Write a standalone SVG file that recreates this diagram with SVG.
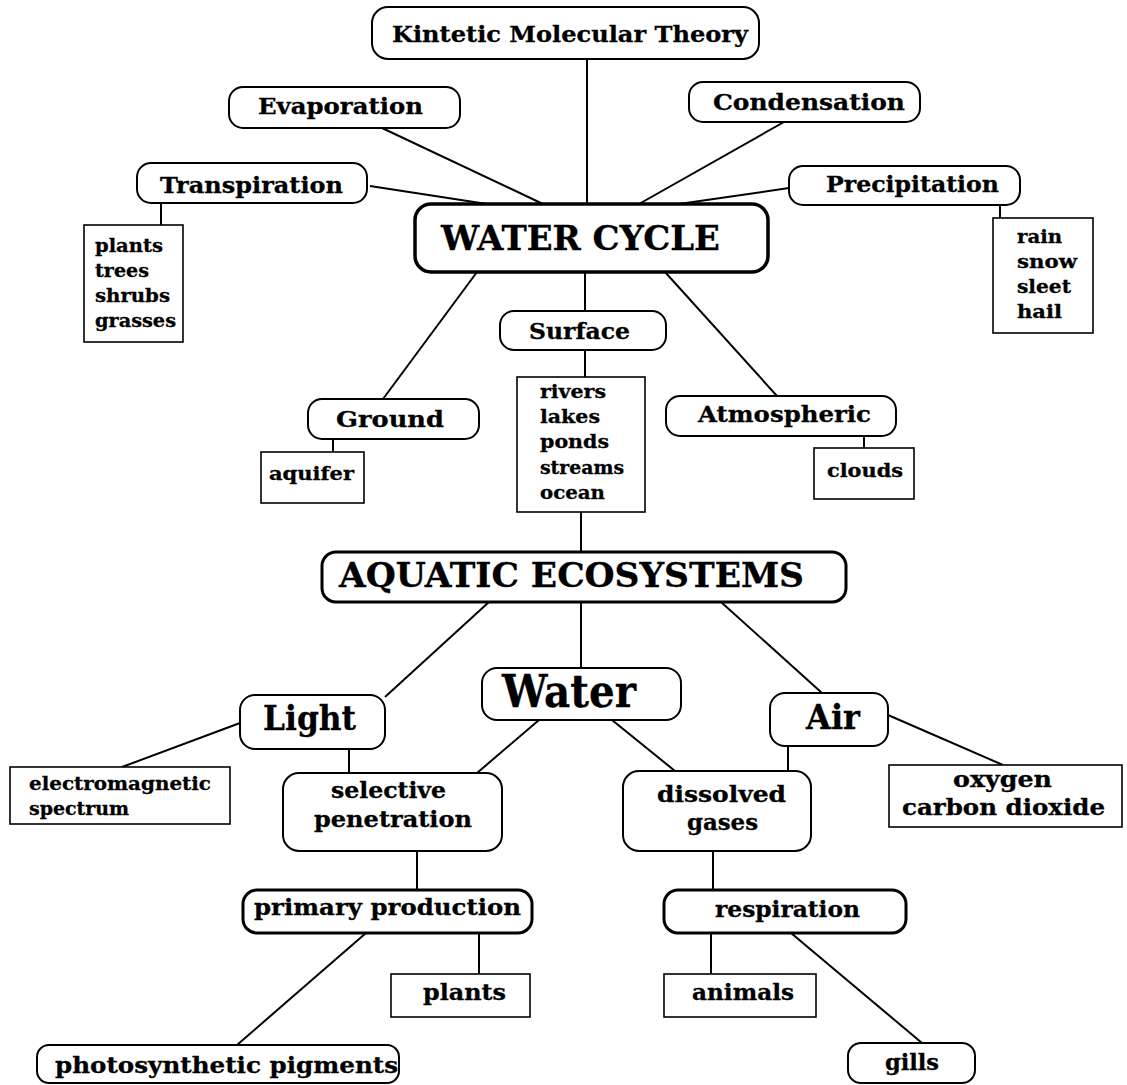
<svg xmlns="http://www.w3.org/2000/svg" width="1127" height="1085" viewBox="0 0 1127 1085">
<style>
text{font-family:"DejaVu Serif","Liberation Serif",serif;font-weight:bold;fill:#000;stroke:#000;stroke-width:0.3}
.pill{fill:#fff;stroke:#000;stroke-width:2}
.main{fill:#fff;stroke:#000;stroke-width:3.5}
.thick{fill:#fff;stroke:#000;stroke-width:3}
.box{fill:#fff;stroke:#000;stroke-width:1.6}
.lbl{font-size:23px}
.sm{font-size:19px}
.mid{font-size:22px}
.big{font-size:33px}
#connectors line{stroke:#000;stroke-width:2}
</style>
<rect width="1127" height="1085" fill="#fff"/>
<g id="connectors">
<line x1="587" y1="59" x2="587" y2="204"/>
<line x1="382" y1="128" x2="543" y2="204"/>
<line x1="370" y1="186" x2="487" y2="204"/>
<line x1="784" y1="122" x2="639" y2="204"/>
<line x1="789" y1="188" x2="679" y2="204"/>
<line x1="161" y1="203" x2="161" y2="225"/>
<line x1="1000" y1="205" x2="1000" y2="218"/>
<line x1="477" y1="272" x2="383" y2="399"/>
<line x1="585" y1="272" x2="585" y2="311"/>
<line x1="665" y1="272" x2="777" y2="396"/>
<line x1="333" y1="439" x2="333" y2="452"/>
<line x1="585" y1="350" x2="585" y2="377"/>
<line x1="864" y1="436" x2="864" y2="448"/>
<line x1="581" y1="512" x2="581" y2="552"/>
<line x1="489" y1="602" x2="385" y2="697"/>
<line x1="581" y1="602" x2="581" y2="668"/>
<line x1="721" y1="602" x2="822" y2="693"/>
<line x1="240" y1="723" x2="122" y2="767"/>
<line x1="349" y1="749" x2="349" y2="773"/>
<line x1="539" y1="720" x2="477" y2="773"/>
<line x1="612" y1="720" x2="675" y2="771"/>
<line x1="788" y1="746" x2="788" y2="771"/>
<line x1="888" y1="715" x2="1003" y2="765"/>
<line x1="417" y1="851" x2="417" y2="890"/>
<line x1="713" y1="851" x2="713" y2="890"/>
<line x1="366" y1="933" x2="237" y2="1045"/>
<line x1="479" y1="933" x2="479" y2="974"/>
<line x1="711" y1="933" x2="711" y2="974"/>
<line x1="791" y1="933" x2="922" y2="1043"/>
</g>
<g id="kmt"><rect class="pill" x="372" y="7" width="387" height="52" rx="16"/><text class="lbl" x="392" y="42" textLength="356" lengthAdjust="spacingAndGlyphs">Kintetic Molecular Theory</text></g>
<g id="evaporation"><rect class="pill" x="229" y="87" width="231" height="41" rx="14"/><text class="lbl" x="258" y="114" textLength="165" lengthAdjust="spacingAndGlyphs">Evaporation</text></g>
<g id="transpiration"><rect class="pill" x="137" y="163" width="230" height="40" rx="14"/><text class="lbl" x="160" y="193" textLength="183" lengthAdjust="spacingAndGlyphs">Transpiration</text></g>
<g id="condensation"><rect class="pill" x="689" y="82" width="231" height="40" rx="14"/><text class="lbl" x="713" y="110" textLength="192" lengthAdjust="spacingAndGlyphs">Condensation</text></g>
<g id="precipitation"><rect class="pill" x="789" y="166" width="231" height="39" rx="14"/><text class="lbl" x="826" y="192" textLength="173" lengthAdjust="spacingAndGlyphs">Precipitation</text></g>
<g id="water-cycle"><rect class="main" x="415" y="204" width="353" height="68" rx="16"/><text class="big" x="441" y="250" textLength="279" lengthAdjust="spacingAndGlyphs">WATER CYCLE</text></g>
<g id="plants-list"><rect class="box" x="84" y="225" width="99" height="117"/>
<text class="sm" x="95" y="252" textLength="68" lengthAdjust="spacingAndGlyphs">plants</text>
<text class="sm" x="95" y="277" textLength="54" lengthAdjust="spacingAndGlyphs">trees</text>
<text class="sm" x="95" y="302" textLength="75" lengthAdjust="spacingAndGlyphs">shrubs</text>
<text class="sm" x="95" y="327" textLength="81" lengthAdjust="spacingAndGlyphs">grasses</text></g>
<g id="precip-list"><rect class="box" x="993" y="218" width="100" height="115"/>
<text class="sm" x="1017" y="243" textLength="45" lengthAdjust="spacingAndGlyphs">rain</text>
<text class="sm" x="1017" y="268" textLength="60" lengthAdjust="spacingAndGlyphs">snow</text>
<text class="sm" x="1017" y="293" textLength="54" lengthAdjust="spacingAndGlyphs">sleet</text>
<text class="sm" x="1017" y="318" textLength="45" lengthAdjust="spacingAndGlyphs">hail</text></g>
<g id="ground"><rect class="pill" x="308" y="399" width="171" height="40" rx="14"/><text class="lbl" x="336" y="427" textLength="108" lengthAdjust="spacingAndGlyphs">Ground</text></g>
<g id="aquifer"><rect class="box" x="261" y="452" width="103" height="51"/><text class="sm" x="269" y="480" textLength="85" lengthAdjust="spacingAndGlyphs">aquifer</text></g>
<g id="surface"><rect class="pill" x="500" y="311" width="166" height="39" rx="14"/><text class="lbl" x="529" y="339" textLength="101" lengthAdjust="spacingAndGlyphs">Surface</text></g>
<g id="surface-list"><rect class="box" x="517" y="377" width="128" height="135"/>
<text class="sm" x="540" y="398" textLength="66" lengthAdjust="spacingAndGlyphs">rivers</text>
<text class="sm" x="540" y="423" textLength="60" lengthAdjust="spacingAndGlyphs">lakes</text>
<text class="sm" x="540" y="448" textLength="69" lengthAdjust="spacingAndGlyphs">ponds</text>
<text class="sm" x="540" y="474" textLength="84" lengthAdjust="spacingAndGlyphs">streams</text>
<text class="sm" x="540" y="499" textLength="65" lengthAdjust="spacingAndGlyphs">ocean</text></g>
<g id="atmospheric"><rect class="pill" x="666" y="396" width="230" height="40" rx="14"/><text class="lbl" x="698" y="422" textLength="173" lengthAdjust="spacingAndGlyphs">Atmospheric</text></g>
<g id="clouds"><rect class="box" x="814" y="448" width="100" height="51"/><text class="sm" x="827" y="477" textLength="76" lengthAdjust="spacingAndGlyphs">clouds</text></g>
<g id="aquatic"><rect class="thick" x="322" y="552" width="524" height="50" rx="14"/><text class="big" x="339" y="587" textLength="465" lengthAdjust="spacingAndGlyphs">AQUATIC ECOSYSTEMS</text></g>
<g id="light"><rect class="pill" x="240" y="695" width="145" height="54" rx="15"/><text class="big" x="263" y="730" textLength="93" lengthAdjust="spacingAndGlyphs">Light</text></g>
<g id="water"><rect class="pill" x="482" y="668" width="199" height="52" rx="15"/><text style="font-size:44px" x="502" y="707" textLength="134" lengthAdjust="spacingAndGlyphs">Water</text></g>
<g id="air"><rect class="pill" x="770" y="693" width="118" height="53" rx="15"/><text class="big" x="806" y="729" textLength="54" lengthAdjust="spacingAndGlyphs">Air</text></g>
<g id="electromagnetic"><rect class="box" x="10" y="767" width="220" height="57"/>
<text class="sm" x="29" y="790" textLength="182" lengthAdjust="spacingAndGlyphs">electromagnetic</text>
<text class="sm" x="29" y="815" textLength="100" lengthAdjust="spacingAndGlyphs">spectrum</text></g>
<g id="selective"><rect class="pill" x="283" y="773" width="219" height="78" rx="16"/>
<text class="mid" x="331" y="798" textLength="115" lengthAdjust="spacingAndGlyphs">selective</text>
<text class="mid" x="314" y="827" textLength="158" lengthAdjust="spacingAndGlyphs">penetration</text></g>
<g id="dissolved"><rect class="pill" x="623" y="771" width="188" height="80" rx="16"/>
<text class="mid" x="657" y="802" textLength="129" lengthAdjust="spacingAndGlyphs">dissolved</text>
<text class="mid" x="687" y="830" textLength="71" lengthAdjust="spacingAndGlyphs">gases</text></g>
<g id="gases-list"><rect class="box" x="889" y="765" width="233" height="62"/>
<text class="mid" x="953" y="787" textLength="99" lengthAdjust="spacingAndGlyphs">oxygen</text>
<text class="mid" x="902" y="815" textLength="203" lengthAdjust="spacingAndGlyphs">carbon dioxide</text></g>
<g id="primary"><rect class="thick" x="243" y="890" width="289" height="43" rx="14"/><text class="lbl" x="254" y="915" textLength="267" lengthAdjust="spacingAndGlyphs">primary production</text></g>
<g id="respiration"><rect class="thick" x="664" y="890" width="242" height="43" rx="14"/><text class="lbl" x="715" y="917" textLength="145" lengthAdjust="spacingAndGlyphs">respiration</text></g>
<g id="plants"><rect class="box" x="391" y="974" width="139" height="43"/><text class="lbl" x="423" y="1000" textLength="83" lengthAdjust="spacingAndGlyphs">plants</text></g>
<g id="animals"><rect class="box" x="664" y="974" width="152" height="43"/><text class="lbl" x="692" y="1000" textLength="102" lengthAdjust="spacingAndGlyphs">animals</text></g>
<g id="photosynthetic"><rect class="pill" x="37" y="1045" width="362" height="38" rx="12"/><text class="lbl" x="55" y="1073" textLength="343" lengthAdjust="spacingAndGlyphs">photosynthetic pigments</text></g>
<g id="gills"><rect class="pill" x="848" y="1043" width="127" height="40" rx="13"/><text class="lbl" x="885" y="1070" textLength="54" lengthAdjust="spacingAndGlyphs">gills</text></g>
</svg>
